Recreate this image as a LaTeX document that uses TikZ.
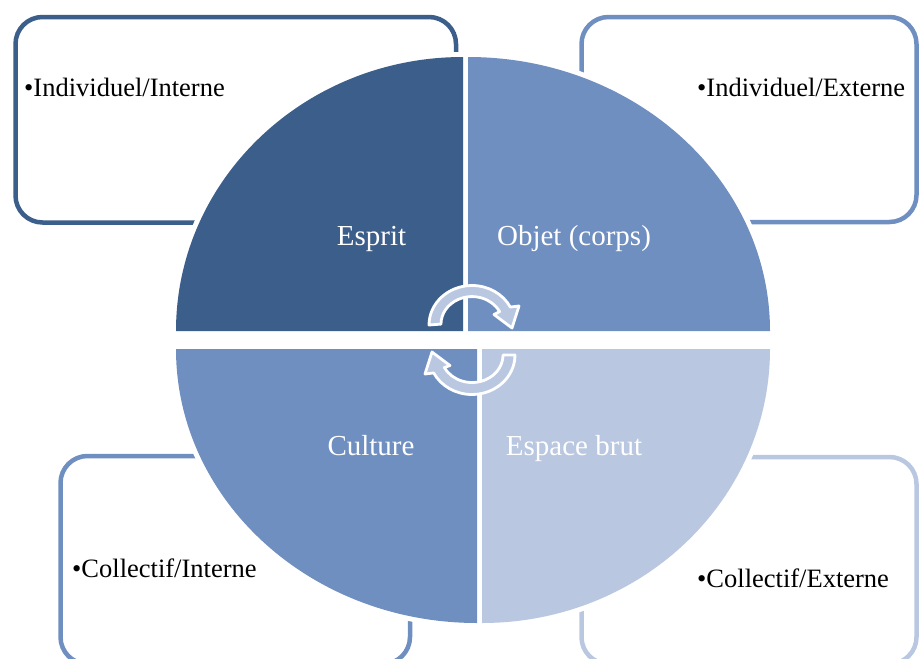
\documentclass[tikz,border=0pt]{standalone}
\usepackage{fontspec}
\setmainfont{Liberation Serif}
\definecolor{dk}{RGB}{59,94,139}
\definecolor{md}{RGB}{111,143,192}
\definecolor{lt}{RGB}{185,199,225}
\begin{document}
\begin{tikzpicture}[x=1pt,y=1pt,
  boxline/.style={line width=4.5pt, rounded corners=27pt},
  backing/.style={fill=white, draw=white, line width=10pt, line join=round},
  arrowshape/.style={fill=lt, draw=white, line width=2.8pt, line join=round},
  boxtext/.style={anchor=base west, inner sep=0pt, font=\fontsize{26.5}{30}\selectfont},
  quadtext/.style={anchor=base, inner sep=0pt, text=white, font=\fontsize{29}{33}\selectfont}]
\useasboundingbox (0,0) rectangle (919,-659);
\clip (0,0) rectangle (919,-659);
% outer boxes
\draw[boxline, draw=dk] (15.5,-17) rectangle (456,-222.5);
\draw[boxline, draw=md] (581.5,-17) rectangle (916.5,-222);
\draw[boxline, draw=md] (60.5,-456) rectangle (410,-664);
\draw[boxline, draw=lt] (581.5,-457) rectangle (916.5,-664);
% backing of the quadrants
\path[backing] (463,-331) -- (176,-331) arc[start angle=180,end angle=90,x radius=287,y radius=274] -- cycle;
\path[backing] (468,-331) -- (468,-57) arc[start angle=90,end angle=0,x radius=302,y radius=274] -- cycle;
\path[backing] (477,-349) -- (176,-349) arc[start angle=180,end angle=270,x radius=301,y radius=274] -- cycle;
\path[backing] (482,-349) -- (770,-349) arc[start angle=0,end angle=-90,x radius=288,y radius=274] -- cycle;
% quadrants
\fill[dk] (463,-331) -- (176,-331) arc[start angle=180,end angle=90,x radius=287,y radius=274] -- cycle;
\fill[md] (468,-331) -- (468,-57) arc[start angle=90,end angle=0,x radius=302,y radius=274] -- cycle;
\fill[md] (477,-349) -- (176,-349) arc[start angle=180,end angle=270,x radius=301,y radius=274] -- cycle;
\fill[lt] (482,-349) -- (770,-349) arc[start angle=0,end angle=-90,x radius=288,y radius=274] -- cycle;
% cycle arrows
\path[arrowshape] (429,-325) arc[start angle=180,end angle=27,x radius=43,y radius=39.5]
  -- (519,-306) -- (512,-328) -- (494,-314.5) -- (499.6,-311.6)
  arc[start angle=27,end angle=180,x radius=31,y radius=27.5] -- cycle;
\path[arrowshape] (515,-355) arc[start angle=0,end angle=-153,x radius=43,y radius=39.5]
  -- (425,-374) -- (432,-352) -- (450,-365.5) -- (444.4,-367.5)
  arc[start angle=-153,end angle=0,x radius=31,y radius=27.5] -- cycle;
% quadrant labels
\node[quadtext] (esprit) at (371.5,-245) {Esprit};
\node[quadtext] (objet) at (574,-245) {Objet (corps)};
\node[quadtext] (culture) at (371,-455) {Culture};
\node[quadtext] (espace) at (574,-455) {Espace brut};
% box texts
\node[boxtext] (ii) at (24,-96) {•Individuel/Interne};
\node[boxtext] (ie) at (697,-96.5) {•Individuel/Externe};
\node[boxtext] (ci) at (72,-577) {•Collectif/Interne};
\node[boxtext] (ce) at (697,-587) {•Collectif/Externe};
\end{tikzpicture}
\end{document}
